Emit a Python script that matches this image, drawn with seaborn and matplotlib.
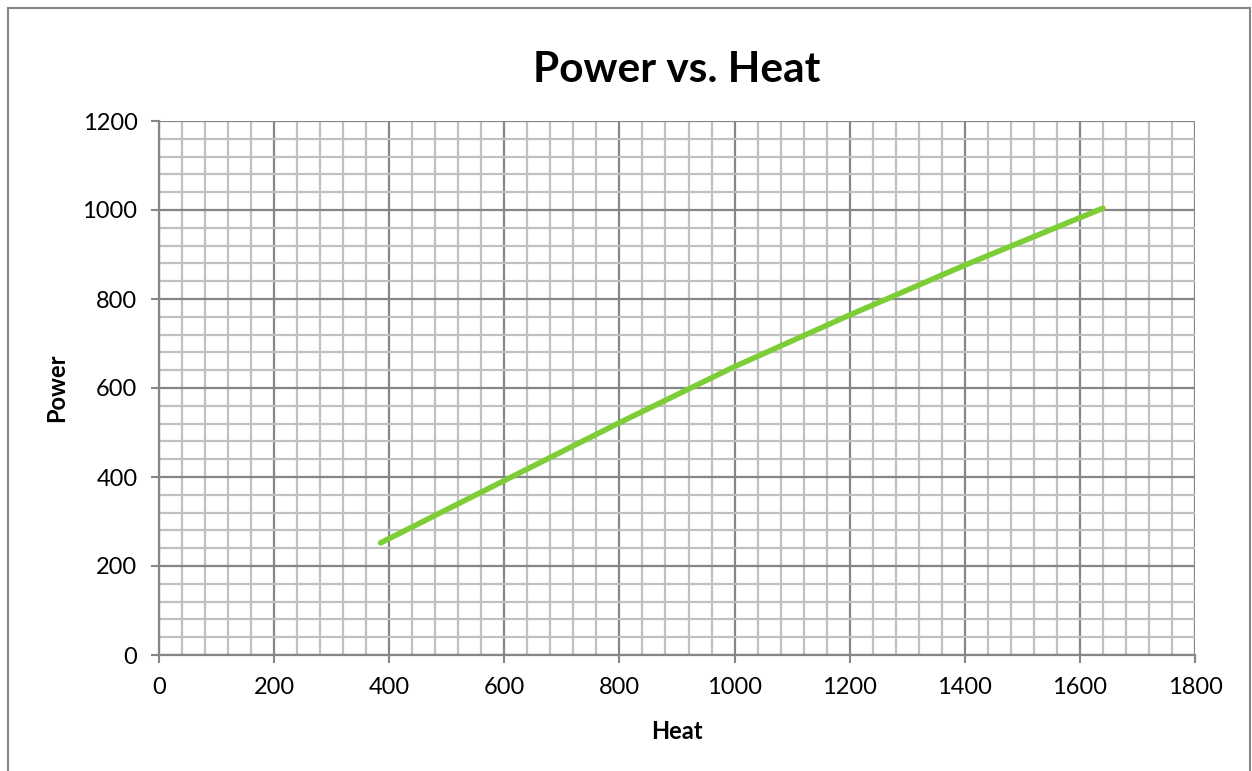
import matplotlib
matplotlib.use("Agg")
import matplotlib.pyplot as plt
import seaborn as sns
import pandas as pd
from matplotlib.ticker import MultipleLocator
from matplotlib.patches import Rectangle

heat = [385, 600, 800, 1000, 1200, 1400, 1640]
power = [252, 392, 522, 648, 764, 876, 1004]
x_ticks = [0, 200, 400, 600, 800, 1000, 1200, 1400, 1600, 1800]
y_ticks = [0, 200, 400, 600, 800, 1000, 1200]

sns.set_theme(style="white")
plt.rcParams['font.family'] = ['Lato', 'DejaVu Sans']
plt.rcParams['text.color'] = 'black'
plt.rcParams['axes.labelcolor'] = 'black'
plt.rcParams['xtick.color'] = 'black'
plt.rcParams['ytick.color'] = 'black'

df = pd.DataFrame({"Heat": heat, "Power": power})

fig = plt.figure(figsize=(12.52, 7.71), dpi=100)
ax = fig.add_axes([159/1252, 1-655/771, (1195-159)/1252, (655-121)/771])

major_c = "#868686"
minor_c = "#c0c0c0"

ax.set_xlim(0, 1800)
ax.set_ylim(0, 1200)
ax.xaxis.set_major_locator(MultipleLocator(200))
ax.yaxis.set_major_locator(MultipleLocator(200))
ax.xaxis.set_minor_locator(MultipleLocator(40))
ax.yaxis.set_minor_locator(MultipleLocator(40))
ax.grid(which="minor", color=minor_c, linewidth=1.6, zorder=0)
ax.grid(which="major", color=major_c, linewidth=1.6, zorder=1)
ax.set_axisbelow(True)

sns.lineplot(data=df, x="Heat", y="Power", ax=ax, color="#7dcd36",
             linewidth=4.0, sort=False, estimator=None, zorder=3,
             solid_capstyle="round")

ax.set_xticks(x_ticks)
ax.set_yticks(y_ticks)
ax.set_xticklabels([str(v) for v in x_ticks])
ax.set_yticklabels([str(v) for v in y_ticks])
ax.tick_params(axis="both", which="major", length=5.5, width=1.5, color=major_c,
               labelcolor="black", labelsize=17, direction="out",
               bottom=True, left=True)
ax.tick_params(axis="x", which="major", pad=10)
ax.tick_params(axis="y", which="major", pad=10)
ax.tick_params(axis="both", which="minor", length=0)

for side in ["top", "right"]:
    ax.spines[side].set_visible(False)
for side in ["left", "bottom"]:
    ax.spines[side].set_color(major_c)
    ax.spines[side].set_linewidth(1.6)

ax.set_xlabel("Heat", fontsize=17, fontweight="bold", labelpad=16, color="black")
ax.set_ylabel("Power", fontsize=17, fontweight="bold", labelpad=10, color="black")
ax.set_title("Power vs. Heat", fontsize=30.5, fontweight="bold", pad=28, color="black")

fig.patches.append(Rectangle((8/1252, -0.05), (1250-8)/1252, 1 - 8/771 + 0.05,
                             transform=fig.transFigure, fill=False,
                             edgecolor=major_c, linewidth=1.5))

fig.savefig("out.png", dpi=100)
